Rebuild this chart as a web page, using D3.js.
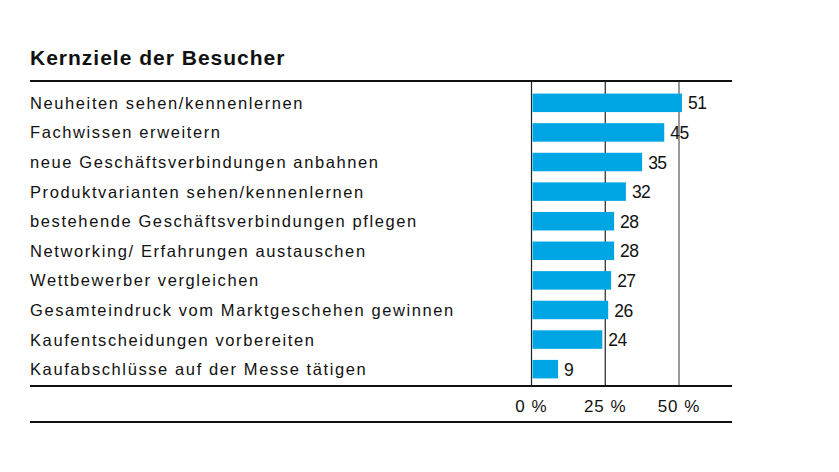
<!DOCTYPE html>
<html><head><meta charset="utf-8">
<script src="https://cdn.jsdelivr.net/npm/d3@7/dist/d3.min.js"></script>
<style>
html,body{margin:0;padding:0;background:#fff;}
svg text{font-family:"Liberation Sans",Arial,sans-serif;fill:#111;}
</style></head>
<body><svg id="chart" width="839" height="472"></svg>
<script>
const title = "Kernziele der Besucher";
const categories = [
  "Neuheiten sehen/kennenlernen",
  "Fachwissen erweitern",
  "neue Geschäftsverbindungen anbahnen",
  "Produktvarianten sehen/kennenlernen",
  "bestehende Geschäftsverbindungen pflegen",
  "Networking/ Erfahrungen austauschen",
  "Wettbewerber vergleichen",
  "Gesamteindruck vom Marktgeschehen gewinnen",
  "Kaufentscheidungen vorbereiten",
  "Kaufabschlüsse auf der Messe tätigen"
];
// bar lengths as drawn in the picture
const values = [51, 45, 37.5, 32, 28, 28, 27, 26, 24, 9];
// printed value labels
const valueLabels = ["51", "45", "35", "32", "28", "28", "27", "26", "24", "9"];
const ticks = [0, 25, 50];
const tickLabels = ["0 %", "25 %", "50 %"];

const svg = d3.select("#chart");
const left = 30, right = 732;
const x = d3.scaleLinear().domain([0, 50]).range([531.5, 679]);
const y = d3.scaleBand().domain(categories).range([82.5, 389.5]).paddingInner(0.375).paddingOuter(0.375);

svg.append("text").attr("x", left).attr("y", 65)
  .style("font-size", "21px").style("font-weight", "bold")
  .style("letter-spacing", "1px").text(title);

// gridlines
svg.selectAll(".grid").data(ticks).enter().append("line")
  .attr("x1", d => x(d)).attr("x2", d => x(d))
  .attr("y1", 81).attr("y2", 386)
  .attr("stroke", (d, i) => i === 2 ? "#777" : "#222")
  .attr("stroke-width", (d, i) => i === 2 ? 1.5 : 1.2);

// bars
svg.selectAll(".bar").data(values).enter().append("rect")
  .attr("x", x(0) + 1)
  .attr("y", (d, i) => y(categories[i]))
  .attr("width", d => x(d) - x(0) - 1)
  .attr("height", y.bandwidth())
  .attr("fill", "#00a6e4");

// category labels
svg.selectAll(".cat").data(categories).enter().append("text")
  .attr("x", left).attr("y", d => y(d) + y.bandwidth() / 2)
  .attr("dy", "0.36em").style("font-size", "16.5px")
  .style("letter-spacing", "1.6px").text(d => d);

// value labels
svg.selectAll(".val").data(values).enter().append("text")
  .attr("x", d => x(d) + 6).attr("y", (d, i) => y(categories[i]) + y.bandwidth() / 2)
  .attr("dy", "0.38em").style("font-size", "17.5px")
  .style("letter-spacing", "-0.5px").text((d, i) => valueLabels[i]);

// rules
[81, 386, 422].forEach(yy => {
  svg.append("line").attr("x1", left).attr("x2", right).attr("y1", yy).attr("y2", yy)
    .attr("stroke", "#111").attr("stroke-width", 2);
});

// tick labels
svg.selectAll(".tick").data(ticks).enter().append("text")
  .attr("x", d => x(d)).attr("y", 412).attr("text-anchor", "middle")
  .style("font-size", "17px").style("letter-spacing", "1px")
  .text((d, i) => tickLabels[i]);
</script></body></html>
